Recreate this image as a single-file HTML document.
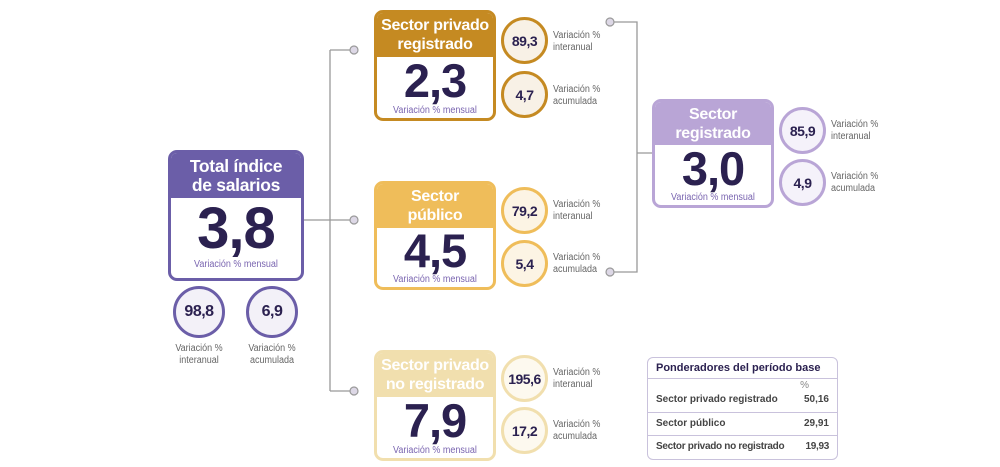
<!DOCTYPE html>
<html><head><meta charset="utf-8"><style>
*{margin:0;padding:0;box-sizing:border-box}
body{width:1000px;height:467px;background:#fff;position:relative;overflow:hidden;font-family:"Liberation Sans",sans-serif;color:#2b2150}
.box{position:absolute;border:3px solid;border-radius:9px;background:#fff;overflow:hidden}
.hd{color:#fff;font-weight:bold;text-align:center;line-height:19px;font-size:16px;white-space:nowrap;letter-spacing:-0.3px}
.num{text-align:center;font-weight:bold;color:#2b2150;letter-spacing:-1px}
.sub{text-align:center;font-size:10px;color:#7a65b0;transform:scaleX(.9);white-space:nowrap}
.c{position:absolute;border:3px solid;border-radius:50%;display:flex;align-items:center;justify-content:center;font-weight:bold;color:#2b2150;letter-spacing:-0.5px}
.lb{position:absolute;font-size:10px;color:#666;line-height:12px;transform:scaleX(.9);transform-origin:left;white-space:nowrap}
.lc{text-align:center;transform-origin:center}
svg{position:absolute;left:0;top:0}
.t{position:absolute;left:647px;top:357px;width:191px;height:103px;border:1px solid #c9c2dc;border-radius:6px;font-size:10px;font-weight:bold;color:#444}
.t div{position:absolute;left:8px;right:8px;white-space:nowrap}
.t span{position:absolute;right:0}
</style></head><body>
<svg width="1000" height="467">
<g stroke="#999" stroke-width="1.3" fill="none">
<path d="M304 220H354M330 50V391M330 50H354M330 391H354"/>
<path d="M610 22H637V272H610M637 153H652"/>
</g>
<g fill="#ddd8e6" stroke="#999" stroke-width="1.2">
<circle cx="354" cy="50" r="4"/><circle cx="354" cy="220" r="4"/><circle cx="354" cy="391" r="4"/>
<circle cx="610" cy="22" r="4"/><circle cx="610" cy="272" r="4"/>
</g>
</svg>

<div class="box" style="left:168px;top:150px;width:136px;height:131px;border-color:#6b5ea8">
<div class="hd" style="background:#6b5ea8;height:45px;padding-top:4px;font-size:17.5px">Total índice<br>de salarios</div>
<div class="num" style="font-size:58px;line-height:60px;margin-top:1px">3,8</div>
<div class="sub">Variación % mensual</div>
</div>
<div class="c" style="left:173px;top:286px;width:52px;height:52px;border-color:#6b5ea8;background:#f3f1f8;font-size:16px">98,8</div>
<div class="c" style="left:246px;top:286px;width:52px;height:52px;border-color:#6b5ea8;background:#f3f1f8;font-size:16px">6,9</div>
<div class="lb lc" style="left:169px;top:343px;width:60px">Variación %<br>interanual</div>
<div class="lb lc" style="left:242px;top:343px;width:60px">Variación %<br>acumulada</div>

<div class="box" style="left:374px;top:10px;width:122px;height:111px;border-color:#c58a22">
<div class="hd" style="background:#c58a22;height:44px;padding-top:3px">Sector privado<br>registrado</div>
<div class="num" style="font-size:47px;line-height:48px">2,3</div>
<div class="sub">Variación % mensual</div>
</div>
<div class="c" style="left:501px;top:17px;width:47px;height:47px;border-color:#c58a22;background:#f8f1e6;font-size:14px">89,3</div>
<div class="c" style="left:501px;top:71px;width:47px;height:47px;border-color:#c58a22;background:#f8f1e6;font-size:14px">4,7</div>
<div class="lb" style="left:553px;top:30px">Variación %<br>interanual</div>
<div class="lb" style="left:553px;top:84px">Variación %<br>acumulada</div>

<div class="box" style="left:374px;top:181px;width:122px;height:109px;border-color:#efbd5a">
<div class="hd" style="background:#efbd5a;height:44px;padding-top:3px">Sector<br>público</div>
<div class="num" style="font-size:47px;line-height:46px">4,5</div>
<div class="sub">Variación % mensual</div>
</div>
<div class="c" style="left:501px;top:187px;width:47px;height:47px;border-color:#efbd5a;background:#fcf4e4;font-size:14px">79,2</div>
<div class="c" style="left:501px;top:240px;width:47px;height:47px;border-color:#efbd5a;background:#fcf4e4;font-size:14px">5,4</div>
<div class="lb" style="left:553px;top:199px">Variación %<br>interanual</div>
<div class="lb" style="left:553px;top:252px">Variación %<br>acumulada</div>

<div class="box" style="left:374px;top:350px;width:122px;height:111px;border-color:#f1dfae">
<div class="hd" style="background:#f1dfae;height:44px;padding-top:3px">Sector privado<br>no registrado</div>
<div class="num" style="font-size:47px;line-height:48px">7,9</div>
<div class="sub">Variación % mensual</div>
</div>
<div class="c" style="left:501px;top:355px;width:47px;height:47px;border-color:#f1dfae;background:#fdf9ef;font-size:14px">195,6</div>
<div class="c" style="left:501px;top:407px;width:47px;height:47px;border-color:#f1dfae;background:#fdf9ef;font-size:14px">17,2</div>
<div class="lb" style="left:553px;top:367px">Variación %<br>interanual</div>
<div class="lb" style="left:553px;top:419px">Variación %<br>acumulada</div>

<div class="box" style="left:652px;top:99px;width:122px;height:109px;border-color:#b9a5d6">
<div class="hd" style="background:#b9a5d6;height:43px;padding-top:3px">Sector<br>registrado</div>
<div class="num" style="font-size:47px;line-height:47px">3,0</div>
<div class="sub">Variación % mensual</div>
</div>
<div class="c" style="left:779px;top:107px;width:47px;height:47px;border-color:#b9a5d6;background:#f5f2fa;font-size:14px">85,9</div>
<div class="c" style="left:779px;top:159px;width:47px;height:47px;border-color:#b9a5d6;background:#f5f2fa;font-size:14px">4,9</div>
<div class="lb" style="left:831px;top:119px">Variación %<br>interanual</div>
<div class="lb" style="left:831px;top:171px">Variación %<br>acumulada</div>

<div class="t">
<div style="top:4px;font-size:11px;color:#2b2150">Ponderadores del período base</div>
<div style="top:20px;left:0;right:0;border-top:1px solid #c9c2dc"></div>
<div style="top:22px;font-weight:normal;color:#888"><span style="right:20px">%</span></div>
<div style="top:36px">Sector privado registrado<span>50,16</span></div>
<div style="top:54px;left:0;right:0;border-top:1px solid #c9c2dc"></div>
<div style="top:60px">Sector público<span>29,91</span></div>
<div style="top:77px;left:0;right:0;border-top:1px solid #c9c2dc"></div>
<div style="top:83px;letter-spacing:-0.3px">Sector privado no registrado<span>19,93</span></div>
</div>
</body></html>
